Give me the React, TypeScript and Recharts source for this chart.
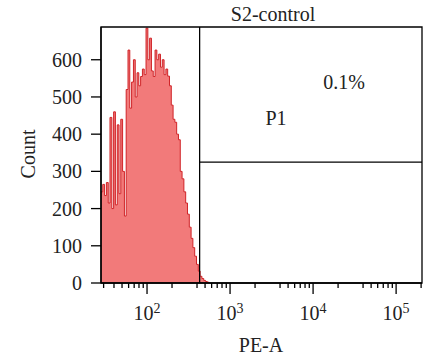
import { ComposedChart, Area, XAxis, YAxis, ReferenceLine, ReferenceArea, Customized } from "recharts";

// PE-A bin positions (log spaced) and the event count in each bin
const peValues = [
  27.9, 29.3, 30.8, 32.4, 34.1, 35.8, 37.7, 39.6, 41.6, 43.8,
  46.0, 48.3, 50.8, 53.4, 56.1, 59.0, 62.0, 65.2, 68.6, 72.1,
  75.8, 79.6, 83.7, 88.0, 92.5, 97.3, 102.3, 107.5, 113.0, 118.8,
  124.9, 131.3, 138.1, 145.2, 152.6, 160.4, 168.7, 177.3, 186.4, 196.0,
  206.0, 216.4, 227.5, 239.2, 251.4, 264.3, 277.9, 292.1, 307.1, 322.9,
  339.5, 356.7, 375.0, 394.3, 414.5, 435.8, 458.2, 481.7, 506.4, 532.4,
  559.7,
];
const counts = [
  245, 265, 235, 270, 215, 445, 200, 460, 210, 425,
  240, 440, 300, 180, 520, 626, 470, 540, 600, 500,
  565, 530, 555, 575, 560, 685, 600, 658, 570, 555,
  626, 600, 615, 580, 600, 560, 575, 556, 530, 478,
  440, 432, 400, 385, 300, 280, 245, 215, 185, 150,
  120, 95, 72, 50, 32, 18, 12, 7, 4, 2,
  0,
];

const majorTicks = [100, 1000, 10000, 100000];
const majorExps = ["2", "3", "4", "5"];
const minorTicks = [
  30, 40, 50, 60, 70, 80, 90,
  200, 400, 500, 600, 700, 800, 900,
  2000, 4000, 5000, 6000, 7000, 8000, 9000,
  20000, 40000, 50000, 60000, 70000, 80000, 90000,
  200000,
];
const yTicks = [0, 100, 200, 300, 400, 500, 600];

const xDomain = [27.9, 205000];
const yDomain = [0, 688];
const gateX = 430;
const gateY = 325;

const FONT = "'Liberation Serif', 'DejaVu Serif', serif";
const INK = "#222";

const data = peValues.map((pe, i) => ({ pe, count: counts[i] }));
const allTicks = [...minorTicks, ...majorTicks].sort((a, b) => a - b);

function XTick(props: any) {
  const { x, y, payload } = props;
  const idx = majorTicks.indexOf(payload.value);
  const major = idx >= 0;
  return (
    <g>
      <line x1={x} x2={x} y1={y} y2={y + (major ? 11 : 5)} stroke="#000" strokeWidth={1.3} />
      {major && (
        <text x={x} y={y + 37} textAnchor="middle" fontSize={20} fontFamily={FONT} fill={INK}>
          10
          <tspan fontSize={14} dy={-7}>{majorExps[idx]}</tspan>
        </text>
      )}
    </g>
  );
}

function Labels() {
  return (
    <g fontFamily={FONT} fill={INK}>
      <text x={273} y={21} textAnchor="middle" fontSize={20}>S2-control</text>
      <text x={344} y={89} textAnchor="middle" fontSize={20}>0.1%</text>
      <text x={276} y={125} textAnchor="middle" fontSize={20}>P1</text>
      <text x={261} y={352} textAnchor="middle" fontSize={20}>PE-A</text>
      <text x={35} y={154} textAnchor="middle" fontSize={20} transform="rotate(-90 35 154)">Count</text>
    </g>
  );
}

export default function App() {
  return (
    <div style={{ position: "absolute", left: 0, top: 0, background: "#fff" }}>
      <ComposedChart width={429} height={358} data={data} margin={{ top: 27, right: 7, bottom: 0, left: 0 }}>
        <XAxis
          dataKey="pe"
          type="number"
          scale="log"
          domain={xDomain}
          allowDataOverflow
          ticks={allTicks}
          interval={0}
          tickLine={false}
          tickSize={0}
          tickMargin={0}
          tick={<XTick />}
          height={75}
          axisLine={{ stroke: "#000", strokeWidth: 1.3 }}
        />
        <YAxis
          type="number"
          domain={yDomain}
          ticks={yTicks}
          interval={0}
          width={101}
          tickSize={10}
          tickMargin={9}
          tickLine={{ stroke: "#000", strokeWidth: 1.3 }}
          axisLine={{ stroke: "#000", strokeWidth: 1.3 }}
          tick={{ fontSize: 20, fontFamily: FONT, fill: INK }}
        />
        <Area
          dataKey="count"
          type="stepAfter"
          fill="#F27A7A"
          fillOpacity={1}
          stroke="#D02428"
          strokeWidth={1}
          isAnimationActive={false}
        />
        <ReferenceArea
          x1={xDomain[0]}
          x2={xDomain[1]}
          y1={yDomain[0]}
          y2={yDomain[1]}
          fill="none"
          stroke="#000"
          strokeWidth={1.3}
          fillOpacity={0}
        />
        <ReferenceLine x={gateX} stroke="#000" strokeWidth={1.3} />
        <ReferenceLine
          segment={[{ x: gateX, y: gateY }, { x: xDomain[1], y: gateY }]}
          stroke="#000"
          strokeWidth={1.3}
        />
        <Customized component={<Labels />} />
      </ComposedChart>
    </div>
  );
}
